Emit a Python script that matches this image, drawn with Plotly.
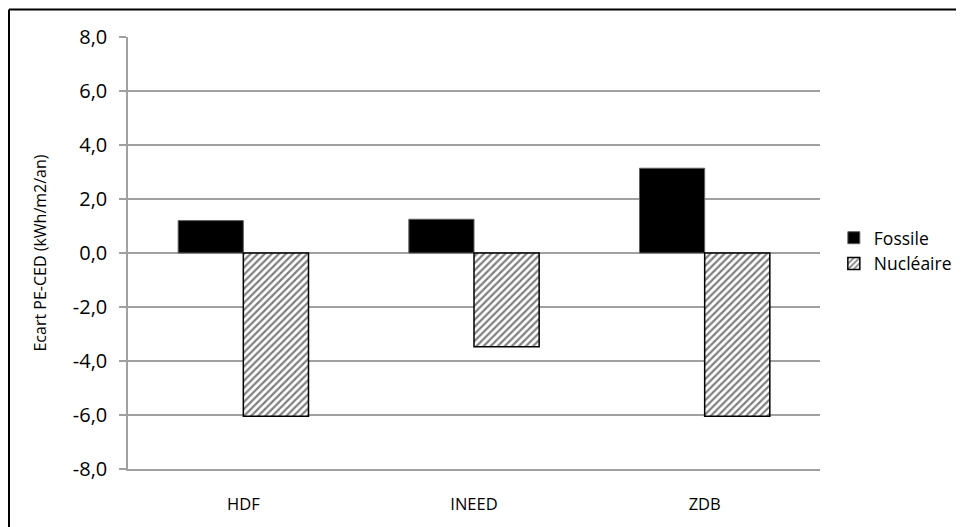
import plotly.graph_objects as go

categories = ["HDF", "INEED", "ZDB"]
fossile = [1.2, 1.25, 3.14]
nucleaire = [-6.05, -3.47, -6.05]
tick_vals = [-8, -6, -4, -2, 0, 2, 4, 6, 8]
tick_text = ["-8,0", "-6,0", "-4,0", "-2,0", "0,0", "2,0", "4,0", "6,0", "8,0"]

FONT = "Open Sans"
# page body has an 8px margin, so the figure is laid out offset by 8px
W, H = 964, 527
L, T = 120, 29
R = W - 812
B = H - 461

fig = go.Figure()
fig.add_trace(go.Bar(
    name="Fossile", x=categories, y=fossile,
    marker=dict(color="black", line=dict(color="#606060", width=1)),
))
fig.add_trace(go.Bar(
    name="Nucléaire", x=categories, y=nucleaire,
    marker=dict(color="white",
                pattern=dict(shape="/", fgcolor="black", bgcolor="white", size=5, solidity=0.45),
                line=dict(color="black", width=1.5)),
))

pw = W - L - R
ph = H - T - B
xl = (1 - L) / pw
yt = (H - B - 1.5) / ph
# chart-area frame: only the top and left edges fall inside the picture
fig.add_shape(type="line", xref="paper", yref="paper",
              x0=xl, x1=(W - L) / pw, y0=yt, y1=yt,
              line=dict(color="black", width=2), layer="above")
fig.add_shape(type="line", xref="paper", yref="paper",
              x0=xl, x1=xl, y0=yt, y1=-B / ph,
              line=dict(color="black", width=2), layer="above")

fig.update_layout(
    width=W, height=H,
    margin=dict(l=L, r=R, t=T, b=B, autoexpand=False),
    paper_bgcolor="white", plot_bgcolor="white",
    barmode="group", bargap=0.435, bargroupgap=0,
    font=dict(family=FONT, color="black"),
    legend=dict(x=1.02, y=0.505, yanchor="middle", xanchor="left",
                font=dict(family=FONT, size=17.5, color="black"),
                tracegroupgap=4, bgcolor="rgba(0,0,0,0)"),
    xaxis=dict(showline=True, linecolor="#a0a0a0", linewidth=1.5, automargin=False,
               tickfont=dict(family=FONT, size=16.5, color="black"),
               ticks="", showgrid=False, zeroline=False, ticklabelstandoff=19),
    yaxis=dict(range=[-8, 8], tickvals=tick_vals, ticktext=tick_text, automargin=False,
               showline=True, linecolor="#a0a0a0", linewidth=1.5,
               ticks="outside", ticklen=7, tickcolor="#a0a0a0", tickwidth=1.5,
               showgrid=True, gridcolor="#a0a0a0", gridwidth=1.5,
               zeroline=False, ticklabelstandoff=8,
               tickfont=dict(family=FONT, size=20, color="black"),
               title=dict(text="Ecart PE-CED (kWh/m2/an)", font=dict(family=FONT, size=16, color="black"),
                          standoff=22)),
)

fig.write_html("out.html")
